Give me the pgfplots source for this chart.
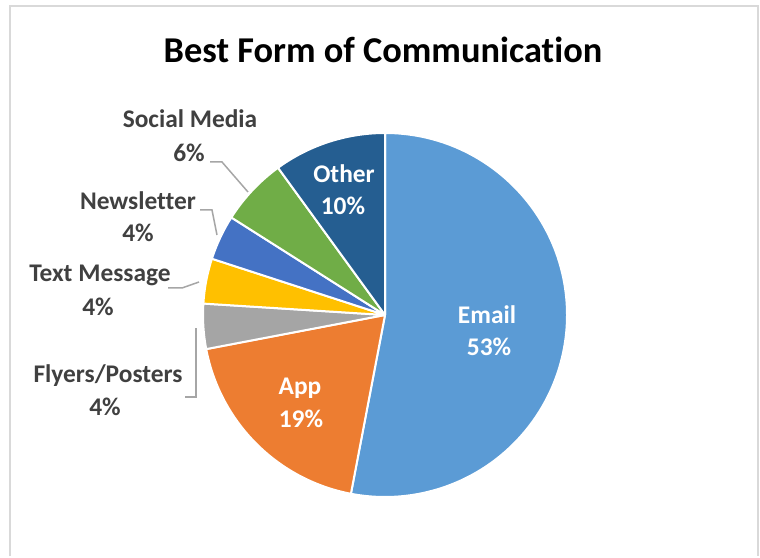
\documentclass[border=0pt]{standalone}
\usepackage{pgfplots}
\pgfplotsset{compat=1.18}
\usepackage{fontspec}
\setmainfont{Carlito}[Ligatures=NoCommon]
\definecolor{cEmail}{HTML}{5B9BD5}
\definecolor{cApp}{HTML}{ED7D31}
\definecolor{cFly}{HTML}{A5A5A5}
\definecolor{cText}{HTML}{FFC000}
\definecolor{cNews}{HTML}{4472C4}
\definecolor{cSocial}{HTML}{70AD47}
\definecolor{cOther}{HTML}{255E91}
\definecolor{lbl}{HTML}{404040}
\definecolor{lead}{HTML}{A6A6A6}
\definecolor{frame}{HTML}{D9D9D9}
% slice: start angle, value (percent), colour
\newcommand\slice[3]{%
  \pgfmathsetmacro\endang{#1-3.6*#2}%
  \edef\tmp{\noexpand\filldraw[fill=#3,draw=white,line width=2bp,line join=round]
    (axis cs:385,241) -- ++(#1:182bp) arc[start angle=#1,end angle=\endang,radius=182bp] -- cycle;}%
  \tmp}
\begin{document}
\begin{tikzpicture}
% values (percent), clockwise from 12 o'clock
\def\vEmail{53}\def\vApp{19}\def\vFly{4}\def\vText{4}\def\vNews{4}\def\vSocial{6}\def\vOther{10}
\pgfmathsetmacro\aA{90}
\pgfmathsetmacro\aB{\aA-3.6*\vEmail}
\pgfmathsetmacro\aC{\aB-3.6*\vApp}
\pgfmathsetmacro\aD{\aC-3.6*\vFly}
\pgfmathsetmacro\aE{\aD-3.6*\vText}
\pgfmathsetmacro\aF{\aE-3.6*\vNews}
\pgfmathsetmacro\aG{\aF-3.6*\vSocial}
\begin{axis}[
  scale only axis, width=760bp, height=556bp,
  xmin=0, xmax=760, ymin=0, ymax=556,
  hide axis, clip=false,
]
\path (axis cs:0,0) rectangle (axis cs:760,556);
\draw[frame, line width=2bp] (axis cs:10,0) -- (axis cs:10,550) -- (axis cs:758,550) -- (axis cs:758,0);
\slice{\aA}{\vEmail}{cEmail}
\slice{\aB}{\vApp}{cApp}
\slice{\aC}{\vFly}{cFly}
\slice{\aD}{\vText}{cText}
\slice{\aE}{\vNews}{cNews}
\slice{\aF}{\vSocial}{cSocial}
\slice{\aG}{\vOther}{cOther}
% title
\node[anchor=base, font=\fontsize{36.5}{44}\selectfont\bfseries, text=black] at (axis cs:383,493) {Best Form of Communication};
% inside labels
\tikzset{inl/.style={anchor=base, font=\fontsize{25.5}{30}\selectfont\bfseries, text=white, inner sep=0pt},
         outl/.style={anchor=base, font=\fontsize{25.5}{30}\selectfont\bfseries, text=lbl, inner sep=0pt}}
\node[inl] at (axis cs:487,233) {Email};
\node[inl] at (axis cs:489,201) {53\%};
\node[inl] at (axis cs:300,162) {App};
\node[inl] at (axis cs:301,129) {19\%};
\node[inl] at (axis cs:344,373) {Other};
\node[inl] at (axis cs:343,341) {10\%};
% outside labels
\node[outl] at (axis cs:190,428) {Social Media};
\node[outl] at (axis cs:189,394) {6\%};
\node[outl] at (axis cs:138,346) {Newsletter};
\node[outl] at (axis cs:138,314) {4\%};
\node[outl] at (axis cs:100,274) {Text Message};
\node[outl] at (axis cs:98,241) {4\%};
\node[outl] at (axis cs:108,174) {Flyers/Posters};
\node[outl] at (axis cs:105,141) {4\%};
% leader lines
\draw[lead, line width=1.5bp] (axis cs:210,394) -- (axis cs:222,394) -- (axis cs:248,364);
\draw[lead, line width=1.5bp] (axis cs:200,346) -- (axis cs:212,346) -- (axis cs:217,321);
\draw[lead, line width=1.5bp] (axis cs:168,268) -- (axis cs:182,268) -- (axis cs:199,274);
\draw[lead, line width=1.5bp] (axis cs:196,228) -- (axis cs:196,159) -- (axis cs:185,159);
\end{axis}
\end{tikzpicture}
\end{document}
